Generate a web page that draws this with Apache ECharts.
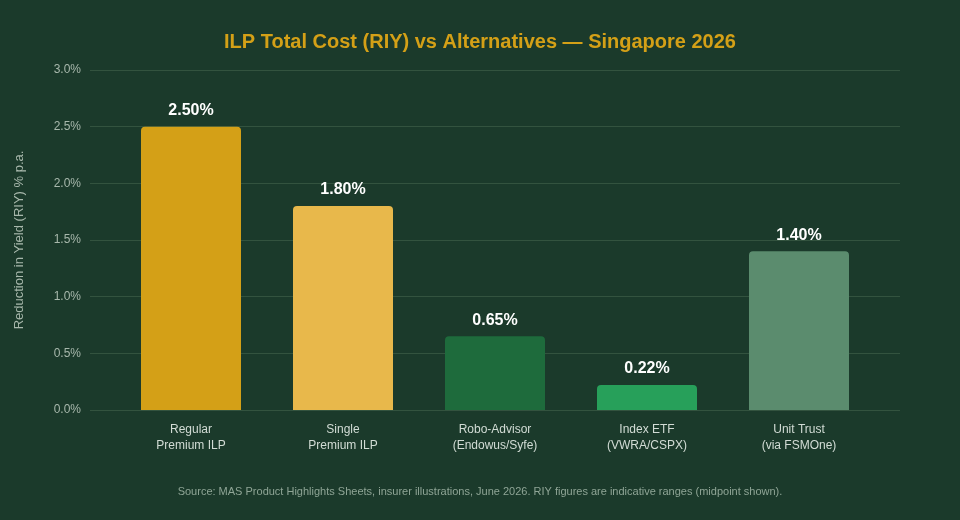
<!DOCTYPE html>
<html>
<head>
<meta charset="utf-8">
<title>ILP Total Cost (RIY) vs Alternatives</title>
<script src="https://cdn.jsdelivr.net/npm/echarts@6/dist/echarts.min.js"></script>
<style>
  html, body { margin: 0; padding: 0; background: #1B3A2B; }
  #chart { width: 960px; height: 520px; }
</style>
</head>
<body>
<div id="chart"></div>
<script>
// chart data
const categories = [
  'Regular\nPremium ILP',
  'Single\nPremium ILP',
  'Robo-Advisor\n(Endowus/Syfe)',
  'Index ETF\n(VWRA/CSPX)',
  'Unit Trust\n(via FSMOne)'
];
const riyValues = [2.50, 1.80, 0.65, 0.22, 1.40];
const barColors = ['#D4A017', '#E8B84B', '#1E6B3C', '#27A05A', '#5B8C6E'];

const yMin = 0, yMax = 3, yStep = 0.5;
const font = '"Liberation Sans", Arial, Helvetica, sans-serif';

const chart = echarts.init(document.getElementById('chart'));

chart.setOption({
  backgroundColor: '#1B3A2B',
  textStyle: { fontFamily: font },
  title: {
    text: 'ILP Total Cost (RIY) vs Alternatives — Singapore 2026',
    left: 'center',
    top: 27,
    textStyle: { color: '#D4A017', fontSize: 20, fontWeight: 'bold', fontFamily: font }
  },
  graphic: [{
    type: 'text',
    left: 'center',
    top: 486,
    style: {
      text: 'Source: MAS Product Highlights Sheets, insurer illustrations, June 2026. RIY figures are indicative ranges (midpoint shown).',
      fill: '#8FA596',
      font: '11px ' + font
    }
  }],
  // grid 0 carries the y axis & gridlines, grid 1 the bars
  grid: [
    { left: 90, right: 60, top: 70, bottom: 110 },
    { left: 115, right: 85, top: 70, bottom: 110 }
  ],
  xAxis: [
    { gridIndex: 0, type: 'category', data: categories, show: false },
    {
      gridIndex: 1,
      type: 'category',
      data: categories,
      axisLine: { show: false },
      axisTick: { show: false },
      axisLabel: { color: '#D2DCD5', fontSize: 12, lineHeight: 16, margin: 12 }
    }
  ],
  yAxis: [
    {
      gridIndex: 0,
      type: 'value',
      min: yMin,
      max: yMax,
      interval: yStep,
      name: 'Reduction in Yield (RIY) % p.a.',
      nameLocation: 'middle',
      nameGap: 64,
      nameTextStyle: { color: '#A8B8AC', fontSize: 13 },
      axisLine: { show: false },
      axisTick: { show: false },
      axisLabel: {
        color: '#A8B8AC',
        fontSize: 12,
        margin: 9,
        formatter: v => v.toFixed(1) + '%'
      },
      splitLine: { lineStyle: { color: '#33533F', width: 1 } }
    },
    { gridIndex: 1, type: 'value', min: yMin, max: yMax, interval: yStep, show: false }
  ],
  series: [{
    type: 'bar',
    xAxisIndex: 1,
    yAxisIndex: 1,
    barWidth: 100,
    data: riyValues.map((v, i) => ({ value: v, itemStyle: { color: barColors[i] } })),
    itemStyle: { borderRadius: [4, 4, 0, 0] },
    label: {
      show: true,
      position: 'top',
      distance: 8,
      color: '#FFFFFF',
      fontSize: 16,
      fontWeight: 'bold',
      formatter: p => p.value.toFixed(2) + '%'
    }
  }]
});
</script>
</body>
</html>
